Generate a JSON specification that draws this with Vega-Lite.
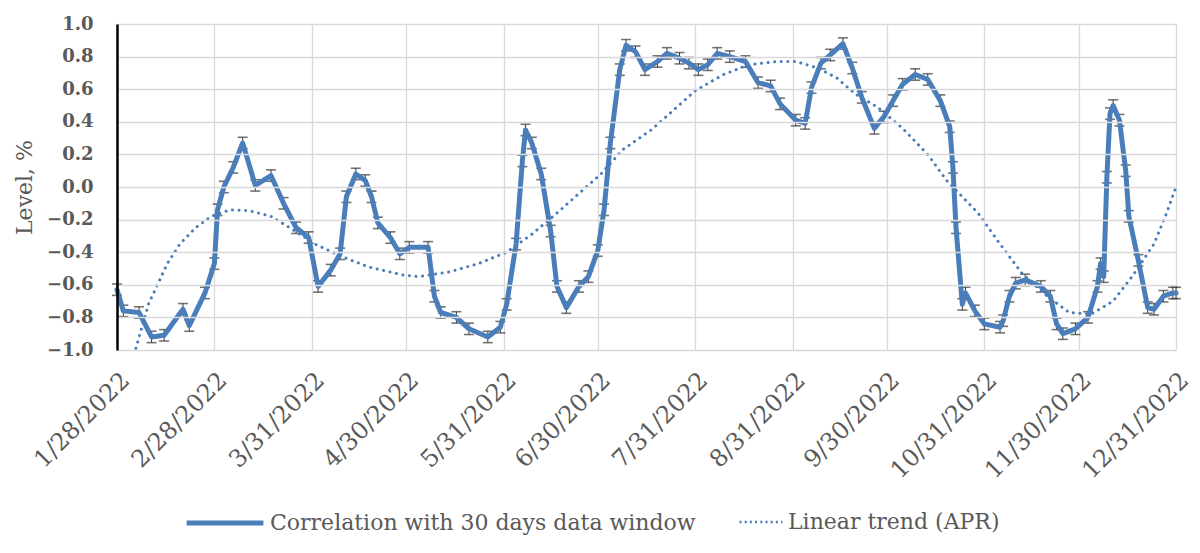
{
  "$schema": "https://vega.github.io/schema/vega-lite/v6.json",
  "width": 1059,
  "height": 326,
  "autosize": "none",
  "padding": {"left": 117, "top": 24, "right": 24, "bottom": 203},
  "background": "white",
  "config": {
    "font": "DejaVu Serif",
    "view": {"stroke": null},
    "axis": {"gridColor": "#d9d9d9", "gridWidth": 1.3, "labelColor": "#595959", "titleColor": "#595959"}
  },
  "datasets": {
    "corr": [
      {"date": "2022-01-28", "value": -0.63, "err": 0.035},
      {"date": "2022-01-30", "value": -0.76, "err": 0.035},
      {"date": "2022-02-04", "value": -0.77, "err": 0.035},
      {"date": "2022-02-08", "value": -0.92, "err": 0.035},
      {"date": "2022-02-12", "value": -0.91, "err": 0.035},
      {"date": "2022-02-18", "value": -0.75, "err": 0.035},
      {"date": "2022-02-20", "value": -0.85, "err": 0.035},
      {"date": "2022-02-25", "value": -0.65, "err": 0.035},
      {"date": "2022-02-28", "value": -0.47, "err": 0.035},
      {"date": "2022-03-01", "value": -0.14, "err": 0.035},
      {"date": "2022-03-03", "value": 0.0, "err": 0.035},
      {"date": "2022-03-06", "value": 0.12, "err": 0.035},
      {"date": "2022-03-09", "value": 0.27, "err": 0.035},
      {"date": "2022-03-13", "value": 0.01, "err": 0.035},
      {"date": "2022-03-18", "value": 0.07, "err": 0.035},
      {"date": "2022-03-22", "value": -0.1, "err": 0.035},
      {"date": "2022-03-26", "value": -0.25, "err": 0.035},
      {"date": "2022-03-30", "value": -0.31, "err": 0.035},
      {"date": "2022-04-02", "value": -0.61, "err": 0.035},
      {"date": "2022-04-06", "value": -0.51, "err": 0.035},
      {"date": "2022-04-09", "value": -0.41, "err": 0.035},
      {"date": "2022-04-11", "value": -0.06, "err": 0.035},
      {"date": "2022-04-14", "value": 0.08, "err": 0.035},
      {"date": "2022-04-17", "value": 0.04, "err": 0.035},
      {"date": "2022-04-19", "value": -0.06, "err": 0.035},
      {"date": "2022-04-21", "value": -0.22, "err": 0.035},
      {"date": "2022-04-25", "value": -0.31, "err": 0.035},
      {"date": "2022-04-28", "value": -0.41, "err": 0.035},
      {"date": "2022-05-01", "value": -0.37, "err": 0.035},
      {"date": "2022-05-07", "value": -0.37, "err": 0.035},
      {"date": "2022-05-09", "value": -0.67, "err": 0.035},
      {"date": "2022-05-11", "value": -0.77, "err": 0.035},
      {"date": "2022-05-16", "value": -0.8, "err": 0.035},
      {"date": "2022-05-20", "value": -0.87, "err": 0.035},
      {"date": "2022-05-26", "value": -0.92, "err": 0.035},
      {"date": "2022-05-30", "value": -0.86, "err": 0.035},
      {"date": "2022-06-01", "value": -0.72, "err": 0.035},
      {"date": "2022-06-04", "value": -0.35, "err": 0.035},
      {"date": "2022-06-06", "value": 0.16, "err": 0.035},
      {"date": "2022-06-07", "value": 0.35, "err": 0.035},
      {"date": "2022-06-09", "value": 0.27, "err": 0.035},
      {"date": "2022-06-12", "value": 0.08, "err": 0.035},
      {"date": "2022-06-15", "value": -0.27, "err": 0.035},
      {"date": "2022-06-17", "value": -0.61, "err": 0.035},
      {"date": "2022-06-20", "value": -0.74, "err": 0.035},
      {"date": "2022-06-24", "value": -0.61, "err": 0.035},
      {"date": "2022-06-27", "value": -0.55, "err": 0.035},
      {"date": "2022-06-30", "value": -0.39, "err": 0.035},
      {"date": "2022-07-02", "value": -0.14, "err": 0.035},
      {"date": "2022-07-04", "value": 0.27, "err": 0.035},
      {"date": "2022-07-07", "value": 0.72, "err": 0.035},
      {"date": "2022-07-09", "value": 0.87, "err": 0.035},
      {"date": "2022-07-12", "value": 0.83, "err": 0.035},
      {"date": "2022-07-15", "value": 0.72, "err": 0.035},
      {"date": "2022-07-19", "value": 0.77, "err": 0.035},
      {"date": "2022-07-22", "value": 0.82, "err": 0.035},
      {"date": "2022-07-26", "value": 0.79, "err": 0.035},
      {"date": "2022-07-29", "value": 0.76, "err": 0.035},
      {"date": "2022-08-01", "value": 0.72, "err": 0.035},
      {"date": "2022-08-04", "value": 0.75, "err": 0.035},
      {"date": "2022-08-07", "value": 0.82, "err": 0.035},
      {"date": "2022-08-11", "value": 0.8, "err": 0.035},
      {"date": "2022-08-16", "value": 0.77, "err": 0.035},
      {"date": "2022-08-20", "value": 0.64, "err": 0.035},
      {"date": "2022-08-24", "value": 0.62, "err": 0.035},
      {"date": "2022-08-27", "value": 0.51, "err": 0.035},
      {"date": "2022-09-01", "value": 0.41, "err": 0.035},
      {"date": "2022-09-04", "value": 0.39, "err": 0.035},
      {"date": "2022-09-06", "value": 0.61, "err": 0.035},
      {"date": "2022-09-09", "value": 0.76, "err": 0.035},
      {"date": "2022-09-12", "value": 0.81, "err": 0.035},
      {"date": "2022-09-16", "value": 0.88, "err": 0.035},
      {"date": "2022-09-19", "value": 0.73, "err": 0.035},
      {"date": "2022-09-22", "value": 0.55, "err": 0.035},
      {"date": "2022-09-26", "value": 0.36, "err": 0.035},
      {"date": "2022-09-29", "value": 0.43, "err": 0.035},
      {"date": "2022-10-02", "value": 0.53, "err": 0.035},
      {"date": "2022-10-05", "value": 0.63, "err": 0.035},
      {"date": "2022-10-09", "value": 0.69, "err": 0.035},
      {"date": "2022-10-13", "value": 0.66, "err": 0.035},
      {"date": "2022-10-17", "value": 0.53, "err": 0.035},
      {"date": "2022-10-20", "value": 0.37, "err": 0.035},
      {"date": "2022-10-21", "value": 0.12, "err": 0.035},
      {"date": "2022-10-22", "value": -0.25, "err": 0.035},
      {"date": "2022-10-24", "value": -0.72, "err": 0.035},
      {"date": "2022-10-25", "value": -0.65, "err": 0.035},
      {"date": "2022-10-28", "value": -0.76, "err": 0.035},
      {"date": "2022-10-31", "value": -0.84, "err": 0.035},
      {"date": "2022-11-05", "value": -0.86, "err": 0.035},
      {"date": "2022-11-06", "value": -0.82, "err": 0.035},
      {"date": "2022-11-08", "value": -0.67, "err": 0.035},
      {"date": "2022-11-10", "value": -0.59, "err": 0.035},
      {"date": "2022-11-13", "value": -0.57, "err": 0.035},
      {"date": "2022-11-18", "value": -0.61, "err": 0.035},
      {"date": "2022-11-21", "value": -0.67, "err": 0.035},
      {"date": "2022-11-23", "value": -0.84, "err": 0.035},
      {"date": "2022-11-25", "value": -0.9, "err": 0.035},
      {"date": "2022-11-29", "value": -0.87, "err": 0.035},
      {"date": "2022-12-03", "value": -0.8, "err": 0.035},
      {"date": "2022-12-06", "value": -0.61, "err": 0.035},
      {"date": "2022-12-07", "value": -0.47, "err": 0.035},
      {"date": "2022-12-08", "value": -0.55, "err": 0.035},
      {"date": "2022-12-09", "value": 0.06, "err": 0.035},
      {"date": "2022-12-10", "value": 0.45, "err": 0.035},
      {"date": "2022-12-11", "value": 0.5, "err": 0.035},
      {"date": "2022-12-13", "value": 0.41, "err": 0.035},
      {"date": "2022-12-15", "value": 0.1, "err": 0.035},
      {"date": "2022-12-16", "value": -0.18, "err": 0.035},
      {"date": "2022-12-19", "value": -0.45, "err": 0.035},
      {"date": "2022-12-22", "value": -0.74, "err": 0.035},
      {"date": "2022-12-24", "value": -0.75, "err": 0.035},
      {"date": "2022-12-27", "value": -0.67, "err": 0.035},
      {"date": "2022-12-30", "value": -0.65, "err": 0.035},
      {"date": "2022-12-31", "value": -0.65, "err": 0.035}
    ],
    "trend": [
      {"date": "2022-02-03", "value": -0.99},
      {"date": "2022-02-07", "value": -0.72},
      {"date": "2022-02-13", "value": -0.47},
      {"date": "2022-02-17", "value": -0.35},
      {"date": "2022-02-22", "value": -0.25},
      {"date": "2022-02-27", "value": -0.18},
      {"date": "2022-03-05", "value": -0.14},
      {"date": "2022-03-11", "value": -0.145},
      {"date": "2022-03-18", "value": -0.18},
      {"date": "2022-03-24", "value": -0.25},
      {"date": "2022-04-01", "value": -0.35},
      {"date": "2022-04-10", "value": -0.43},
      {"date": "2022-04-18", "value": -0.49},
      {"date": "2022-04-29", "value": -0.54},
      {"date": "2022-05-04", "value": -0.55},
      {"date": "2022-05-14", "value": -0.52},
      {"date": "2022-05-23", "value": -0.47},
      {"date": "2022-06-01", "value": -0.4},
      {"date": "2022-06-09", "value": -0.29},
      {"date": "2022-06-17", "value": -0.16},
      {"date": "2022-06-24", "value": -0.04},
      {"date": "2022-07-01", "value": 0.08},
      {"date": "2022-07-08", "value": 0.23},
      {"date": "2022-07-17", "value": 0.35},
      {"date": "2022-07-24", "value": 0.47},
      {"date": "2022-07-31", "value": 0.59},
      {"date": "2022-08-09", "value": 0.69},
      {"date": "2022-08-17", "value": 0.75},
      {"date": "2022-08-26", "value": 0.77},
      {"date": "2022-09-01", "value": 0.77},
      {"date": "2022-09-08", "value": 0.73},
      {"date": "2022-09-14", "value": 0.67},
      {"date": "2022-09-20", "value": 0.57},
      {"date": "2022-09-27", "value": 0.49},
      {"date": "2022-10-05", "value": 0.36},
      {"date": "2022-10-13", "value": 0.2},
      {"date": "2022-10-19", "value": 0.04},
      {"date": "2022-10-29", "value": -0.16},
      {"date": "2022-11-05", "value": -0.35},
      {"date": "2022-11-12", "value": -0.53},
      {"date": "2022-11-20", "value": -0.67},
      {"date": "2022-11-27", "value": -0.77},
      {"date": "2022-12-04", "value": -0.78},
      {"date": "2022-12-11", "value": -0.7},
      {"date": "2022-12-17", "value": -0.55},
      {"date": "2022-12-24", "value": -0.35},
      {"date": "2022-12-28", "value": -0.16},
      {"date": "2022-12-31", "value": 0.0}
    ],
    "months": [
      {"date": "2022-01-28"}, {"date": "2022-02-28"}, {"date": "2022-03-31"},
      {"date": "2022-04-30"}, {"date": "2022-05-31"}, {"date": "2022-06-30"},
      {"date": "2022-07-31"}, {"date": "2022-08-31"}, {"date": "2022-09-30"},
      {"date": "2022-10-31"}, {"date": "2022-11-30"}, {"date": "2022-12-31"}
    ]
  },
  "encoding": {
    "x": {
      "field": "date",
      "type": "temporal",
      "title": null,
      "scale": {"domain": [{"year": 2022, "month": 1, "date": 28}, {"year": 2022, "month": 12, "date": 31}]},
      "axis": {
        "values": [
          {"year": 2022, "month": 1, "date": 28}, {"year": 2022, "month": 2, "date": 28},
          {"year": 2022, "month": 3, "date": 31}, {"year": 2022, "month": 4, "date": 30},
          {"year": 2022, "month": 5, "date": 31}, {"year": 2022, "month": 6, "date": 30},
          {"year": 2022, "month": 7, "date": 31}, {"year": 2022, "month": 8, "date": 31},
          {"year": 2022, "month": 9, "date": 30}, {"year": 2022, "month": 10, "date": 31},
          {"year": 2022, "month": 11, "date": 30}, {"year": 2022, "month": 12, "date": 31}
        ],
        "format": "%-m/%-d/%Y",
        "labelAngle": -45,
        "labelFontSize": 24,
        "labelPadding": 18,
        "labelFlush": false,
        "labelOverlap": false,
        "domain": false,
        "ticks": false
      }
    },
    "y": {
      "field": "value",
      "type": "quantitative",
      "title": "Level, %",
      "scale": {"domain": [-1, 1], "nice": false},
      "axis": {
        "values": [-1, -0.8, -0.6, -0.4, -0.2, 0, 0.2, 0.4, 0.6, 0.8, 1],
        "format": ".1f",
        "labelFontSize": 18,
        "labelFontWeight": "bold",
        "labelPadding": 24,
        "ticks": false,
        "domainColor": "black",
        "domainWidth": 2.5,
        "zindex": 1,
        "titleFontSize": 22,
        "titleFontWeight": "normal",
        "titlePadding": 10
      }
    }
  },
  "layer": [
    {
      "data": {"name": "corr"},
      "mark": {
        "type": "errorbar",
        "ticks": {"size": 10, "color": "#3a3a3a", "thickness": 1.6},
        "rule": {"color": "#3a3a3a", "strokeWidth": 1}
      },
      "encoding": {"yError": {"field": "err"}}
    },
    {
      "data": {"name": "months"},
      "mark": {"type": "rule", "color": "black", "strokeWidth": 2.5},
      "encoding": {"y": {"datum": 0}, "y2": {"datum": -0.035}}
    },
    {
      "mark": {"type": "rule", "color": "black", "strokeWidth": 2.5},
      "encoding": {"x": {"value": 0}, "x2": {"value": 1059}, "y": {"datum": 0}}
    },
    {
      "data": {"name": "corr"},
      "transform": [{"calculate": "'Correlation with 30 days data window'", "as": "series"}],
      "mark": {"type": "line", "strokeWidth": 5, "strokeJoin": "round", "strokeCap": "round"},
      "encoding": {
        "color": {
          "field": "series",
          "type": "nominal",
          "scale": {"range": ["#4a7ebb"]},
          "legend": {
            "title": null,
            "orient": "none",
            "legendX": 67,
            "legendY": 458,
            "symbolType": "stroke",
            "symbolSize": 5900,
            "symbolStrokeWidth": 5,
            "labelFontSize": 22,
            "labelColor": "#595959",
            "labelOffset": 4,
            "labelLimit": 700
          }
        }
      }
    },
    {
      "data": {"name": "trend"},
      "transform": [{"calculate": "'Linear trend (APR)'", "as": "trendName"}],
      "mark": {"type": "line", "strokeWidth": 3, "strokeDash": [0.1, 6.5], "strokeCap": "round"},
      "encoding": {
        "color": {
          "field": "trendName",
          "type": "nominal",
          "scale": {"range": ["#4a7ebb"]},
          "legend": {
            "title": null,
            "orient": "none",
            "legendX": 621,
            "legendY": 475,
            "symbolType": "stroke",
            "symbolSize": 1850,
            "symbolStrokeWidth": 2.5,
            "symbolDash": [2, 3.2],
            "labelFontSize": 22,
            "labelColor": "#595959",
            "labelOffset": 4,
            "labelLimit": 700
          }
        }
      }
    }
  ],
  "resolve": {"scale": {"color": "independent"}}
}
